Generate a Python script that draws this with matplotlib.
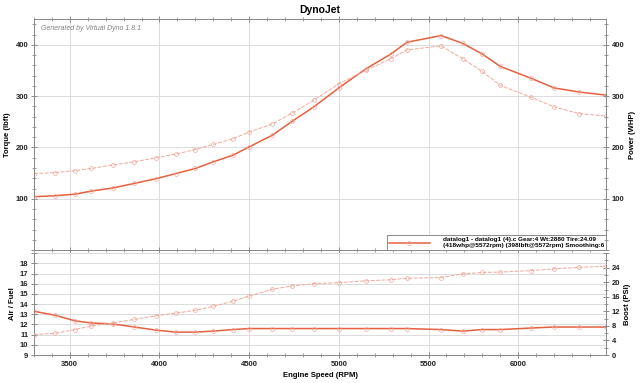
import matplotlib
matplotlib.use('Agg')
import matplotlib.pyplot as plt
from matplotlib.ticker import MultipleLocator
from matplotlib.lines import Line2D

plt.rcParams['font.family'] = ['Liberation Sans', 'DejaVu Sans']

# engine speed of the logged samples
rpm = [3300, 3420, 3530, 3620, 3740, 3860, 3980, 4090, 4200, 4300, 4410, 4500,
       4630, 4740, 4860, 5000, 5150, 5290, 5380, 5570, 5690, 5800, 5900, 6070,
       6200, 6340, 6490]

power = [104, 106, 109, 115, 121, 130, 139, 149, 159, 172, 185, 201,
         224, 251, 279, 316, 353, 382, 405, 418, 403, 382, 358, 335,
         316, 308, 302]
torque = [149, 151, 155, 159, 166, 172, 180, 187, 196, 206, 217, 230,
          246, 267, 292, 324, 350, 373, 390, 398, 373, 348, 321, 298,
          279, 266, 261]

afr = [13.3, 12.9, 12.35, 12.15, 12.05, 11.75, 11.45, 11.25, 11.25, 11.35, 11.5, 11.6,
       11.6, 11.6, 11.6, 11.6, 11.6, 11.6, 11.6, 11.5, 11.35, 11.5, 11.5, 11.65,
       11.75, 11.75, 11.75]
boost = [5.6, 6.0, 7.0, 8.0, 8.8, 9.8, 10.8, 11.5, 12.3, 13.4, 14.8, 16.2,
         18.1, 19.0, 19.6, 19.9, 20.4, 20.7, 21.1, 21.3, 22.3, 22.7, 22.8, 23.2,
         23.7, 24.1, 24.4]

legend_text = ('datalog1 - datalog1 (4).c Gear:4 Wt:2880 Tire:24.09\n'
               '(418whp@5572rpm) (398lbft@5572rpm) Smoothing:6')

solid_c = '#e5603f'
light_c = '#f2a89b'
grid_c = '#dcdcdc'
spine_c = '#8a8a8a'
fs = 5.5

fig = plt.figure(figsize=(6.4, 3.83), dpi=100)
ax = fig.add_axes([0.053, 0.347, 0.894, 0.603])
ax2 = ax.twinx()
bx = fig.add_axes([0.053, 0.073, 0.894, 0.266])
bx2 = bx.twinx()

# top panel: power (solid) and torque (light dashed)
ax.plot(rpm, power, color=solid_c, lw=1.1, marker='o', ms=2.8, mfc='none',
        mec=light_c, mew=0.5, zorder=3)
ax.plot(rpm, torque, color=light_c, lw=0.7, ls=(0, (4, 1.5)), marker='o', ms=2.8,
        mfc='none', mec=light_c, mew=0.5, zorder=3)

# bottom panel: air/fuel (solid) and boost (light dashed)
bx.plot(rpm, afr, color=solid_c, lw=1.1, marker='o', ms=2.8, mfc='none',
        mec=light_c, mew=0.5, zorder=3)
bx2.plot(rpm, boost, color=light_c, lw=0.7, ls=(0, (4, 1.5)), marker='o', ms=2.8,
         mfc='none', mec=light_c, mew=0.5, zorder=3)

for a in (ax, ax2):
    a.set_xlim(3300, 6490)
    a.set_ylim(0, 450)
for a in (bx, bx2):
    a.set_xlim(3300, 6490)
bx.set_ylim(9, 19)
bx2.set_ylim(0, 28)

ax.yaxis.set_major_locator(MultipleLocator(100))
ax.yaxis.set_minor_locator(MultipleLocator(20))
ax2.yaxis.set_major_locator(MultipleLocator(100))
ax2.yaxis.set_minor_locator(MultipleLocator(20))
top_fmt = plt.FuncFormatter(lambda v, p: '%d' % v if 0 < v <= 400 else '')
ax.yaxis.set_major_formatter(top_fmt)
ax2.yaxis.set_major_formatter(top_fmt)

bx.yaxis.set_major_locator(MultipleLocator(1))
bx.yaxis.set_major_formatter(plt.FuncFormatter(lambda v, p: '%d' % v if v <= 18 else ''))
bx2.yaxis.set_major_locator(MultipleLocator(4))
bx2.yaxis.set_minor_locator(MultipleLocator(2))
bx2.yaxis.set_major_formatter(plt.FuncFormatter(lambda v, p: '%d' % v if v <= 24 else ''))

for a in (ax, ax2, bx, bx2):
    for s in a.spines.values():
        s.set_color(spine_c)
        s.set_linewidth(0.7)
    a.tick_params(which='both', colors=spine_c, labelcolor='#222222', labelsize=fs,
                  direction='inout', pad=2)
    a.tick_params(which='major', length=4, width=0.7)
    a.tick_params(which='minor', length=2.5, width=0.6)
    a.xaxis.set_major_locator(MultipleLocator(500))
    a.xaxis.set_minor_locator(MultipleLocator(100))

ax.tick_params(axis='x', labelbottom=False)
ax.tick_params(axis='x', which='both', top=True)
ax.grid(True, which='major', color=grid_c, lw=0.7)
bx.grid(True, which='major', color=grid_c, lw=0.7)
bx.spines['top'].set_visible(False)
bx2.spines['top'].set_visible(False)

fig.canvas.draw()
for a in (ax, ax2, bx, bx2):
    for lab in a.get_xticklabels() + a.get_yticklabels():
        lab.set_fontweight('bold')

ax.set_ylabel('Torque (lbft)', fontsize=fs, fontweight='bold', labelpad=3)
ax2.set_ylabel('Power (WHP)', fontsize=fs, fontweight='bold', labelpad=3)
bx.set_ylabel('Air / Fuel', fontsize=fs, fontweight='bold', labelpad=3)
bx2.set_ylabel('Boost (PSI)', fontsize=fs, fontweight='bold', labelpad=3)
bx.set_xlabel('Engine Speed (RPM)', fontsize=fs, fontweight='bold', labelpad=3)

fig.text(0.5, 0.975, 'DynoJet', ha='center', va='center', fontsize=7.5, fontweight='bold')
ax.text(0.012, 0.975, 'Generated by Virtual Dyno 1.8.1', transform=ax.transAxes,
        ha='left', va='top', fontsize=5, style='italic', color='#808080')

handle = Line2D([], [], color=solid_c, lw=1.1, marker='o', ms=2.8, mfc='none',
                mec=light_c, mew=0.5)
leg = ax.legend([handle], [legend_text], loc='lower right',
                prop={'weight': 'bold', 'size': 4.6}, frameon=True, fancybox=False,
                borderaxespad=0, handlelength=6.5, handletextpad=2.0, borderpad=0.3,
                labelspacing=0.2)
leg.get_frame().set_edgecolor(spine_c)
leg.get_frame().set_linewidth(0.7)
leg.get_frame().set_alpha(1)

fig.savefig('out.png', dpi=100)
